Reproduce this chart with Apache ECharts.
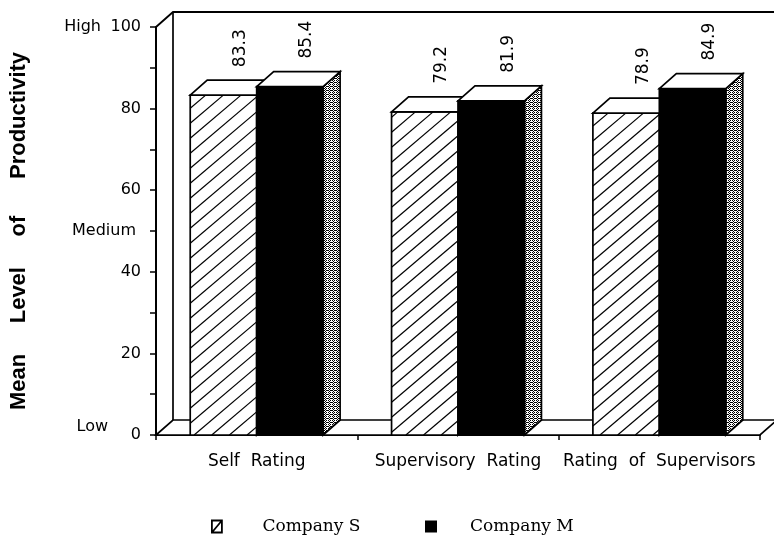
<!DOCTYPE html>
<html><head><meta charset="utf-8">
<script src="https://cdn.jsdelivr.net/npm/echarts@6/dist/echarts.min.js"></script>
<style>html,body{margin:0;padding:0;background:#fff}#c{width:774px;height:543px}</style>
</head><body><div id="c"></div>
<script>
// ---- data ----
const categories = ['Self  Rating', 'Supervisory  Rating', 'Rating  of  Supervisors'];
const companyS = [83.3, 79.2, 78.9];
const companyM = [85.4, 81.9, 84.9];
const seriesNames = ['Company S', 'Company M'];
const yTickValues = [0, 20, 40, 60, 80, 100];
const levelLabels = { 100: 'High', 50: 'Medium', 0: 'Low' };
const yTitle = 'Mean     Level     of      Productivity';

// ---- style constants ----
const DX = 17, DY = -15;
const stipple = (function () {
  const c = document.createElement('canvas'); c.width = 4; c.height = 4;
  const g = c.getContext('2d');
  g.fillStyle = '#fff'; g.fillRect(0, 0, 4, 4);
  g.fillStyle = '#000';
  [[0,0],[2,0],[1,1],[3,2],[0,2],[2,2],[1,3]].forEach(p => g.fillRect(p[0], p[1], 1, 1));
  return c;
})();

function hatchLines(x0, x1, y0, y1) {
  const s = 0.85, step = 15, out = [];
  const cMin = y0 + s * x0, cMax = y1 + s * x1;
  for (let c = Math.ceil(cMin / step) * step; c <= cMax; c += step) {
    const xa = Math.max(x0, (c - y1) / s), xb = Math.min(x1, (c - y0) / s);
    if (xb > xa) out.push({ type: 'line', shape: { x1: xa, y1: c - s * xa, x2: xb, y2: c - s * xb }, style: { stroke: '#000', lineWidth: 1.2 } });
  }
  return out;
}

function barRender(kind) {
  return function (params, api) {
    const ci = api.value(0), v = api.value(1);
    const base = api.coord([ci, 0]);
    const top = api.coord([ci, v]);
    const bw = api.size([1, 0])[0];
    const frac = 0.33;
    let xL, xR;
    if (kind === 'S') { xL = base[0] - bw * frac; xR = base[0]; }
    else { xL = base[0]; xR = base[0] + bw * frac; }
    const yT = top[1], yB = base[1];
    const st = { stroke: '#000', lineWidth: 1.7, lineJoin: 'miter' };
    const ch = [];
    ch.push({ type: 'polygon', shape: { points: [[xR, yB], [xR + DX, yB + DY], [xR + DX, yT + DY], [xR, yT]] },
      style: Object.assign({ fill: { image: stipple, repeat: 'repeat' } }, st) });
    ch.push({ type: 'rect', shape: { x: xL, y: yT, width: xR - xL, height: yB - yT }, style: { fill: kind === 'S' ? '#fff' : '#000' } });
    if (kind === 'S') ch.push.apply(ch, hatchLines(xL, xR, yT, yB));
    ch.push({ type: 'rect', shape: { x: xL, y: yT, width: xR - xL, height: yB - yT }, style: Object.assign({ fill: null }, st) });
    ch.push({ type: 'polygon', shape: { points: [[xL, yT], [xR, yT], [xR + DX, yT + DY], [xL + DX, yT + DY]] },
      style: Object.assign({ fill: '#fff' }, st) });
    ch.push({ type: 'text', x: (xL + xR) / 2 + DX, y: yT + DY - 13, rotation: Math.PI / 2,
      style: { text: v.toFixed(1), font: '17px "DejaVu Sans"', fill: '#000', align: 'left', verticalAlign: 'middle' } });
    return { type: 'group', children: ch };
  };
}

function frameRender(params, api) {
  const cs = params.coordSys;
  const x0 = cs.x, x1 = cs.x + cs.width, yT = cs.y, yB = cs.y + cs.height;
  return { type: 'group', children: [
    { type: 'polygon', shape: { points: [[x0, yB], [x1, yB], [x1 + DX, yB + DY], [x0 + DX, yB + DY]] }, style: { fill: '#fff', stroke: '#000', lineWidth: 1.7 } },
    { type: 'polyline', shape: { points: [[x0, yT], [x0 + DX, yT + DY], [x1 + DX, yT + DY]] }, style: { fill: null, stroke: '#000', lineWidth: 1.8 } },
    { type: 'line', shape: { x1: x0 + DX, y1: yT + DY, x2: x0 + DX, y2: yB + DY }, style: { stroke: '#000', lineWidth: 1.7 } }
  ] };
}

const chart = echarts.init(document.getElementById('c'), null, { renderer: 'canvas' });
chart.setOption({
  animation: false,
  backgroundColor: '#fff',
  grid: { left: 155, right: 14, top: 27, bottom: 108 },
  xAxis: {
    type: 'category', data: categories,
    axisLine: { lineStyle: { color: '#000', width: 2 } },
    axisTick: { show: true, length: 5, lineStyle: { color: '#000', width: 1.5 } },
    axisLabel: { interval: 0, color: '#000', fontFamily: 'DejaVu Sans', fontSize: 17, margin: 18 }
  },
  yAxis: [{
    type: 'value', min: 0, max: 100, interval: 10,
    axisLine: { show: true, lineStyle: { color: '#000', width: 2 } },
    axisTick: { show: true, length: 6, lineStyle: { color: '#000', width: 1.5 } },
    splitLine: { show: false },
    axisLabel: { margin: 15, color: '#000', fontFamily: 'DejaVu Sans', fontSize: 16,
      formatter: v => yTickValues.indexOf(v) >= 0 ? String(v) : '' },
    name: yTitle, nameLocation: 'middle', nameGap: 126, nameRotate: 90,
    nameTextStyle: { fontFamily: 'Liberation Sans', fontWeight: 'bold', fontSize: 22, color: '#000' }
  }, {
    type: 'value', min: 0, max: 100, interval: 50, position: 'left',
    axisLine: { show: false }, axisTick: { show: false }, splitLine: { show: false },
    axisLabel: { margin: 20, color: '#000', fontFamily: 'DejaVu Sans', fontSize: 16,
      formatter: v => v === 100 ? '{h|' + levelLabels[100] + '}' : v === 50 ? '{m|' + levelLabels[50] + '}' : v === 0 ? '{l|' + levelLabels[0] + '}' : '',
      rich: {
        h: { fontFamily: 'DejaVu Sans', fontSize: 16, color: '#000', padding: [0, 35, 0, 0] },
        m: { fontFamily: 'DejaVu Sans', fontSize: 16, color: '#000' },
        l: { fontFamily: 'DejaVu Sans', fontSize: 16, color: '#000', padding: [0, 28, 16, 0] }
      } }
  }],
  legend: [{
    left: 206, top: 513, itemWidth: 11, itemHeight: 12, selectedMode: false,
    data: [{ name: seriesNames[0], icon: 'path://M0,0L10,0L10,12L0,12Z M0,12L10,0', itemStyle: { color: '#fff', borderColor: '#000', borderWidth: 1.8 } }],
    textStyle: { fontFamily: 'DejaVu Serif', fontSize: 17, color: '#000', padding: [0, 0, 0, 35] }
  }, {
    left: 420, top: 513, itemWidth: 12, itemHeight: 12, selectedMode: false,
    data: [{ name: seriesNames[1], icon: 'rect', itemStyle: { color: '#000' } }],
    textStyle: { fontFamily: 'DejaVu Serif', fontSize: 17, color: '#000', padding: [0, 0, 0, 28] }
  }],
  series: [
    { type: 'custom', name: 'frame', z: 1, renderItem: frameRender, data: [[0, 0]], silent: true },
    { type: 'custom', name: seriesNames[0], z: 2, renderItem: barRender('S'), itemStyle: { color: '#fff' },
      data: companyS.map((v, i) => [i, v]) },
    { type: 'custom', name: seriesNames[1], z: 3, renderItem: barRender('M'), itemStyle: { color: '#000' },
      data: companyM.map((v, i) => [i, v]) }
  ]
});
</script>
</body></html>
